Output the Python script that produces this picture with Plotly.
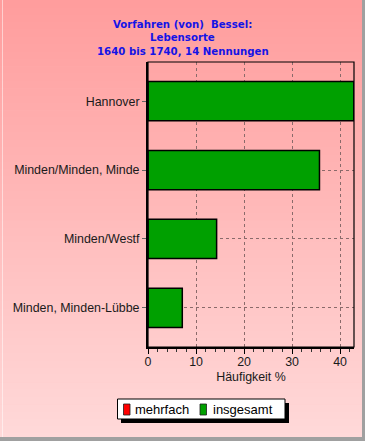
import plotly.graph_objects as go

categories = ["Minden, Minden-Lübbe", "Minden/Westf", "Minden/Minden, Minde", "Hannover"]
insgesamt = [7.14, 14.29, 35.71, 42.86]
mehrfach = [0, 0, 0, 0]
x_ticks = [0, 10, 20, 30, 40]
series_names = ["mehrfach", "insgesamt"]
series_colors = ["#FF0000", "#00A000"]
title_lines = ["Vorfahren (von)\u00a0 Bessel:", "Lebensorte", "1640 bis 1740, 14 Nennungen"]

W, H = 365, 441
L, R, T, B = 148, 354, 62, 347  # plot area in px

def px_x(p):
    return (p - L) / (R - L)

def px_y(p):
    return (B - p) / (B - T)

fig = go.Figure()
fig.add_trace(go.Bar(
    y=categories, x=mehrfach, orientation="h", name=series_names[0],
    marker=dict(color=series_colors[0], line=dict(color="#000000", width=0)),
    width=0.57, showlegend=False,
))
fig.add_trace(go.Bar(
    y=categories, x=insgesamt, orientation="h", name=series_names[1],
    marker=dict(color=series_colors[1], line=dict(color="#000000", width=1.5)),
    width=0.57, showlegend=False,
))

shapes = []
# gradient background
n = 60
top_c = (255, 156, 156)
bot_c = (255, 218, 218)
for i in range(n):
    p0 = H * i / n
    p1 = H * (i + 1) / n + 0.6
    t = (i + 0.5) / n
    c = tuple(int(round(top_c[k] + (bot_c[k] - top_c[k]) * t)) for k in range(3))
    shapes.append(dict(type="rect", xref="paper", yref="paper",
                       x0=px_x(0), x1=px_x(W), y0=px_y(p1), y1=px_y(p0),
                       fillcolor="rgb(%d,%d,%d)" % c, line=dict(width=0), layer="below"))
# window border
shapes.append(dict(type="rect", xref="paper", yref="paper",
                   x0=px_x(362), x1=px_x(W), y0=px_y(H), y1=px_y(0),
                   fillcolor="#A0A0A0", line=dict(width=0), layer="below"))
shapes.append(dict(type="rect", xref="paper", yref="paper",
                   x0=px_x(0), x1=px_x(W), y0=px_y(H), y1=px_y(437),
                   fillcolor="#A0A0A0", line=dict(width=0), layer="below"))
shapes.append(dict(type="rect", xref="paper", yref="paper",
                   x0=px_x(2), x1=px_x(3), y0=px_y(437), y1=px_y(0),
                   fillcolor="rgba(255,255,255,0.5)", line=dict(width=0), layer="below"))
# plot frame
shapes.append(dict(type="rect", xref="paper", yref="paper", x0=0, x1=1, y0=0, y1=1,
                   line=dict(color="#000000", width=1.2), layer="above"))

annotations = []
# title lines
for ty, line in zip([24.5, 38, 51.5], title_lines):
    annotations.append(dict(text="<b>%s</b>" % line, xref="paper", yref="paper",
                            x=px_x(182.5), y=px_y(ty), xanchor="center", yanchor="middle",
                            showarrow=False,
                            font=dict(size=10.2, color="#1414E6",
                                      family="DejaVu Sans, Liberation Sans, sans-serif")))

# manual legend: shadow, box, swatches
shapes.append(dict(type="rect", xref="paper", yref="paper",
                   x0=px_x(121), x1=px_x(289), y0=px_y(423), y1=px_y(403),
                   fillcolor="#000000", line=dict(width=0), layer="above"))
shapes.append(dict(type="rect", xref="paper", yref="paper",
                   x0=px_x(117.5), x1=px_x(285), y0=px_y(419), y1=px_y(399),
                   fillcolor="#FFFFFF", line=dict(color="#000000", width=1), layer="above"))
sw_x = [123.5, 200]
tx_x = [133, 210.5]
for name, col, sx, tx in zip(series_names, series_colors, sw_x, tx_x):
    shapes.append(dict(type="rect", xref="paper", yref="paper",
                       x0=px_x(sx), x1=px_x(sx + 6.5), y0=px_y(415), y1=px_y(404),
                       fillcolor=col, line=dict(color="#202020", width=0.8), layer="above"))
    annotations.append(dict(text=name, xref="paper", yref="paper",
                            x=px_x(tx), y=px_y(409.5), xanchor="left", yanchor="middle",
                            showarrow=False,
                            font=dict(size=13, color="#000000",
                                      family="Liberation Sans, Arial, sans-serif")))

fig.update_layout(
    width=W, height=H,
    margin=dict(l=L, r=W - R, t=T, b=H - B, autoexpand=False),
    paper_bgcolor="#FFC0C0",
    plot_bgcolor="rgba(0,0,0,0)",
    barmode="overlay",
    showlegend=False,
    font=dict(family="Liberation Sans, Arial, sans-serif", size=12, color="#1a1a1a"),
    xaxis=dict(
        range=[0, 42.9], tickvals=x_ticks, ticktext=[str(v) for v in x_ticks],
        showline=True, linecolor="#000000", linewidth=2,
        ticks="outside", ticklen=5, tickcolor="#000000",
        minor=dict(dtick=2, ticks="outside", ticklen=3, tickcolor="#333333", showgrid=False),
        showgrid=True, gridcolor="#8a6a6a", griddash="3px,3px", gridwidth=1,
        zeroline=False, ticklabelstandoff=-3,
        title=dict(text="Häufigkeit %", standoff=4, font=dict(size=12.4)),
        tickfont=dict(size=12.4),
    ),
    yaxis=dict(
        range=[-0.57, 3.57], categoryorder="array", categoryarray=categories,
        showline=True, linecolor="#000000", linewidth=2,
        ticks="outside", ticklen=4, tickcolor="#666666",
        showgrid=True, gridcolor="#8a6a6a", griddash="3px,3px", gridwidth=1,
        zeroline=False, tickfont=dict(size=12.4),
    ),
    shapes=shapes,
    annotations=annotations,
)

fig.write_html("out.html", config={"displayModeBar": False},
               post_script="document.body.style.margin='0';document.body.style.padding='0';")
